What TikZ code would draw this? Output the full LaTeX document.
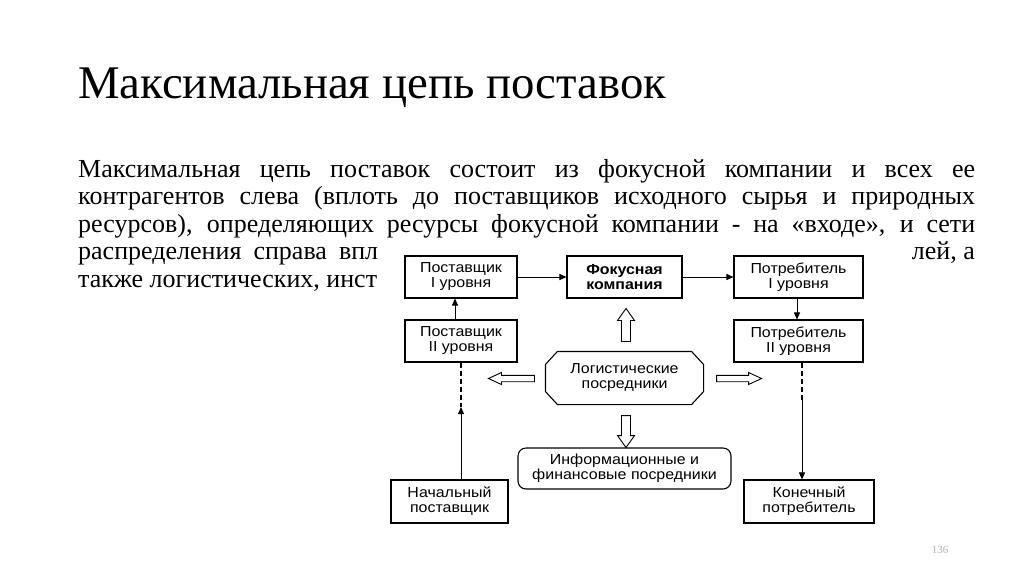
\documentclass[tikz,border=0pt]{standalone}
\usepackage{fontspec}
\setmainfont{Liberation Serif}
\newfontfamily\dfont{Liberation Sans}[FakeStretch=1.1]
\usetikzlibrary{arrows.meta,calc}
\begin{document}
\begin{tikzpicture}[x=1pt,y=-1pt,
  bodytext/.style={anchor=base west,inner sep=0pt,font=\fontsize{26}{28}\selectfont},
  dbox/.style={draw,line width=1.1pt,align=center,inner sep=0pt,
     font=\dfont\fontsize{14.5}{15}\selectfont},
  conn/.style={line width=1pt,-{Triangle[length=7pt,width=6pt]}},
  dconn/.style={line width=1.3pt,dash pattern=on 5pt off 3pt},
  pics/hollowarrow/.style n args={4}{code={
    \draw[line width=0.9pt,fill=white] (0,-#2) -- ({#1-#4},-#2) -- ({#1-#4},-#3) -- (#1,0)
       -- ({#1-#4},#3) -- ({#1-#4},#2) -- (0,#2) -- cycle;}}
]
\useasboundingbox (0,0) rectangle (1024,574);
\fill[white] (0,0) rectangle (1024,574);
% title
\node[anchor=base west,inner sep=0pt,font=\fontsize{46.8}{50}\selectfont] (title) at (78,98) {Максимальная цепь поставок};
% body
\node[bodytext] (l1) at (78,177) {\makebox[897pt][s]{Максимальная цепь поставок состоит из фокусной компании и всех ее}};
\node[bodytext] (l2) at (78,204) {\makebox[897pt][s]{контрагентов слева (вплоть до поставщиков исходного сырья и природных}};
\node[bodytext] (l3) at (78,232) {\makebox[897pt][s]{ресурсов), определяющих ресурсы фокусной компании - на «входе», и сети}};
\node[bodytext] (l4a) at (78,259) {\makebox[300pt][s]{распределения справа впл}};
\node[bodytext,anchor=base east] (l4b) at (975,259) {лей, а};
\node[bodytext] (l5) at (78,287) {также логистических, инст};
% diagram boxes
\node[dbox,minimum width=112pt,minimum height=42pt] (s1) at (461,277) {Поставщик\\I уровня};
\node[dbox,minimum width=115pt,minimum height=42pt,font=\dfont\bfseries\fontsize{14.5}{15}\selectfont] (f) at (624.5,277) {Фокусная\\компания};
\node[dbox,minimum width=129pt,minimum height=42pt] (p1) at (798.5,277) {Потребитель\\I уровня};
\node[dbox,minimum width=112pt,minimum height=42pt] (s2) at (461,341) {Поставщик\\II уровня};
\node[dbox,minimum width=129pt,minimum height=42pt] (p2) at (798.5,341) {Потребитель\\II уровня};
\node[dbox,draw=none,minimum width=157pt,minimum height=52pt] (oct) at (624.5,378) {Логистические\\посредники};
\draw[line width=1.1pt] ([xshift=12pt]oct.north west) -- ([xshift=-12pt]oct.north east)
   -- ([yshift=-13pt]oct.north east) -- ([yshift=13pt]oct.south east)
   -- ([xshift=-12pt]oct.south east) -- ([xshift=12pt]oct.south west)
   -- ([yshift=13pt]oct.south west) -- ([yshift=-13pt]oct.north west) -- cycle;
\node[dbox,rounded corners=8pt,minimum width=213pt,minimum height=41pt] (info) at (624.5,468.5) {Информационные и\\финансовые посредники};
\node[dbox,minimum width=117pt,minimum height=43pt] (nach) at (449.5,501.5) {Начальный\\поставщик};
\node[dbox,minimum width=130pt,minimum height=43pt] (kon) at (809,501.5) {Конечный\\потребитель};
% connectors
\draw[conn] (s1.east) -- (f.west);
\draw[conn] (f.east) -- (p1.west);
\draw[conn] (s2.north -| 455,0) -- (s1.south -| 455,0);
\draw[conn] (p1.south -| 797,0) -- (p2.north -| 797,0);
\coordinate (lm) at (461,407);
\coordinate (rm) at (802,402);
\draw[dconn] (s2.south -| lm) -- (lm);
\draw[conn] (nach.north -| lm) -- (lm);
\draw[dconn] (p2.south -| rm) -- (rm);
\draw[conn] ([yshift=3pt]rm) -- (kon.north -| rm);
% hollow arrows
\coordinate (ua) at ($(oct.north)+(1.5,-10)$);
\coordinate (da) at ($(oct.south)+(1.5,11)$);
\coordinate (la) at ($(oct.west)+(-11,0.5)$);
\coordinate (ra) at ($(oct.east)+(13,0.5)$);
\pic[rotate=90] at (ua) {hollowarrow={33}{4.5}{8.5}{12}};
\pic[rotate=-90] at (da) {hollowarrow={32}{4.5}{8.5}{12}};
\pic[rotate=180] at (la) {hollowarrow={46}{3.2}{6}{13}};
\pic at (ra) {hollowarrow={45}{3.2}{6}{13}};
% page number
\node[anchor=base,inner sep=0pt,text=black!30,font=\fontsize{11}{12}\selectfont] (pg) at (940,553) {136};
\end{tikzpicture}
\end{document}
